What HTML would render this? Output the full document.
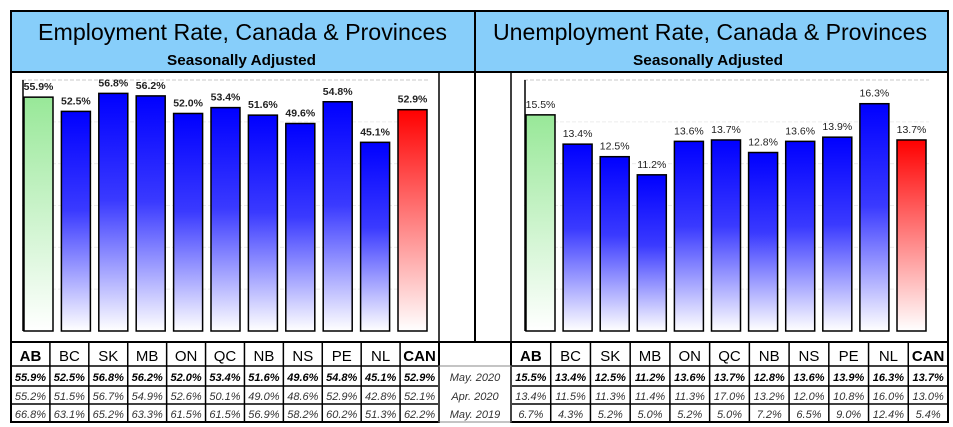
<!DOCTYPE html>
<html><head><meta charset="utf-8"><style>
body{margin:0;background:#fff;width:953px;height:427px;overflow:hidden;font-family:"Liberation Sans",Arial,sans-serif}
svg{display:block;font-family:"Liberation Sans",Arial,sans-serif}
</style></head><body>
<svg id="s" width="953" height="427" xmlns="http://www.w3.org/2000/svg" font-family="Liberation Sans, Arial, sans-serif">
<defs>
<linearGradient id="gb" x1="0" y1="0" x2="0" y2="1"><stop offset="0" stop-color="#0000ff"/><stop offset="0.45" stop-color="#3a3aff"/><stop offset="1" stop-color="#ffffff"/></linearGradient>
<linearGradient id="gg" x1="0" y1="0" x2="0" y2="1"><stop offset="0" stop-color="#98e898"/><stop offset="1" stop-color="#ffffff"/></linearGradient>
<linearGradient id="gr" x1="0" y1="0" x2="0" y2="1"><stop offset="0" stop-color="#ff0000"/><stop offset="1" stop-color="#ffffff"/></linearGradient>
</defs>
<rect x="11" y="11" width="937" height="61" fill="#87cefa" stroke="#000" stroke-width="2"/>
<line x1="475" y1="11" x2="475" y2="342" stroke="#000" stroke-width="2"/>
<text x="38" y="40" font-size="23" textLength="409" lengthAdjust="spacingAndGlyphs">Employment Rate, Canada &amp; Provinces</text>
<text x="167" y="65" font-size="15" font-weight="bold" textLength="149" lengthAdjust="spacingAndGlyphs">Seasonally Adjusted</text>
<text x="493" y="40" font-size="23" textLength="434" lengthAdjust="spacingAndGlyphs">Unemployment Rate, Canada &amp; Provinces</text>
<text x="633" y="65" font-size="15" font-weight="bold" textLength="150" lengthAdjust="spacingAndGlyphs">Seasonally Adjusted</text>
<rect x="11" y="72" width="937" height="270" fill="none" stroke="#000" stroke-width="2"/>
<line x1="439" y1="72" x2="439" y2="342" stroke="#000" stroke-width="1.5"/>
<line x1="511" y1="72" x2="511" y2="342" stroke="#000" stroke-width="1.5"/>
<g id="charts"></g>
<g id="tables"></g>
</svg>
<script>
const provinces=["AB","BC","SK","MB","ON","QC","NB","NS","PE","NL","CAN"];
const empMay2020=[55.9,52.5,56.8,56.2,52.0,53.4,51.6,49.6,54.8,45.1,52.9];
const empApr2020=[55.2,51.5,56.7,54.9,52.6,50.1,49.0,48.6,52.9,42.8,52.1];
const empMay2019=[66.8,63.1,65.2,63.3,61.5,61.5,56.9,58.2,60.2,51.3,62.2];
const unMay2020=[15.5,13.4,12.5,11.2,13.6,13.7,12.8,13.6,13.9,16.3,13.7];
const unApr2020=[13.4,11.5,11.3,11.4,11.3,17.0,13.2,12.0,10.8,16.0,13.0];
const unMay2019=[6.7,4.3,5.2,5.0,5.2,5.0,7.2,6.5,9.0,12.4,5.4];
const rowLabels=["May. 2020","Apr. 2020","May. 2019"];
const NS="http://www.w3.org/2000/svg";
function mk(tag,attrs,parent,txt){const e=document.createElementNS(NS,tag);for(const k in attrs)e.setAttribute(k,attrs[k]);if(txt!==undefined)e.textContent=txt;parent.appendChild(e);return e;}
const G=document.getElementById('charts');
function chart(vals,x0,pitch,yMax,prefix,boldLbl){
  const base=331,top=80;
  const y=v=>base-(v/yMax)*(base-top);
  const x=i=>x0+i*pitch;
  for(let k=1;k<=6;k++){const gy=base-(base-top)*k/6;
    const gl=mk('line',{x1:x0-2,x2:x0+10*pitch+32,y1:gy,y2:gy,stroke:k==6?'#c8c8c8':'#ececec','stroke-dasharray':'4,2'},G);
    
    }
  const ax=mk('line',{x1:x0-1,x2:x0-1,y1:top,y2:base,stroke:'#000','stroke-width':1.5},G);
  
  
  vals.forEach((v,i)=>{
    const fill=i==0?'url(#gg)':(i==vals.length-1?'url(#gr)':'url(#gb)');
    const r=mk('rect',{x:x(i),y:y(v),width:29,height:base-y(v),fill:fill,stroke:'#000','stroke-width':1.5},G);
    
    
    const t=mk('text',{x:x(i)+14.5,y:y(v)-7,'font-size':10.5,'font-weight':boldLbl?'bold':'normal','text-anchor':'middle',fill:'#222'},G,v.toFixed(1)+'%');
    
    
  });
}
chart(empMay2020,24,37.4,60,'employment',true);
chart(unMay2020,526,37.1,18,'unemployment',false);
const T=document.getElementById('tables');
const rows=[[342,366],[366,386],[386,404],[404,422]];
function table(x0,x1,d1,d2,d3,prefix){
  const w=(x1-x0)/11;
  mk('rect',{x:x0,y:342,width:x1-x0,height:80,fill:'none',stroke:'#000','stroke-width':2},T);
  rows.forEach(r=>mk('line',{x1:x0,x2:x1,y1:r[1],y2:r[1],stroke:'#000','stroke-width':1.5},T));
  for(let i=1;i<11;i++)mk('line',{x1:x0+i*w,x2:x0+i*w,y1:342,y2:422,stroke:'#000','stroke-width':1.5},T);
  provinces.forEach((p,i)=>{
    const cx=x0+i*w+w/2;
    const h=mk('text',{x:cx,y:361,'font-size':15,'font-weight':(i==0||i==10)?'bold':'normal','text-anchor':'middle'},T,p);
    
    
    [[d1,381,'bold','#000'],[d2,400,'normal','#333'],[d3,418,'normal','#333']].forEach(a=>{
      const c=mk('text',{x:cx,y:a[1],'font-size':11,'font-style':'italic','font-weight':a[2],fill:a[3],'text-anchor':'middle'},T,a[0][i].toFixed(1)+'%');
      
      
    });
  });
}
table(11,439,empMay2020,empApr2020,empMay2019,'employment-table');
table(511,948,unMay2020,unApr2020,unMay2019,'unemployment-table');
mk('rect',{x:439,y:366,width:72,height:56,fill:'none',stroke:'#888','stroke-width':1},T);
[381,400,418].forEach((yy,i)=>{
  const l=mk('text',{x:475,y:yy,'font-size':11,'font-style':'italic','text-anchor':'middle',fill:'#333'},T,rowLabels[i]);
  
  
});
</script>
</body></html>
